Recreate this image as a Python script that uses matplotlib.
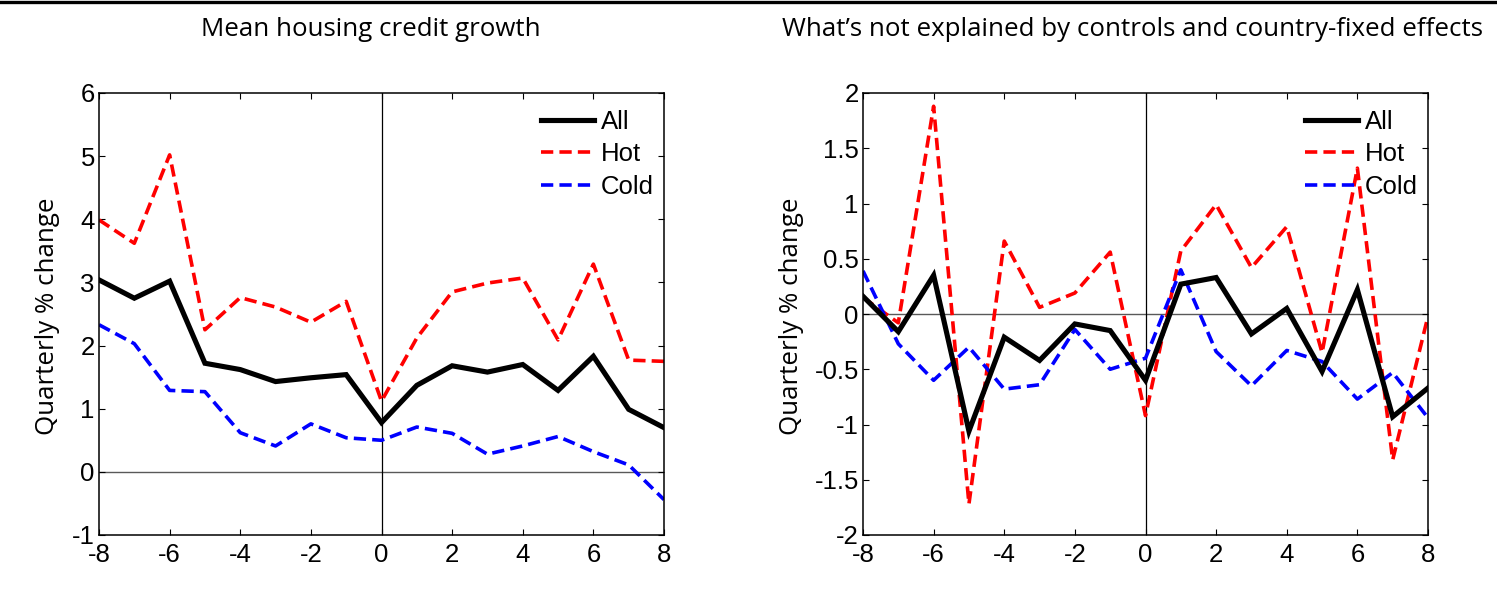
import matplotlib
matplotlib.use("Agg")
import matplotlib.pyplot as plt
from matplotlib.lines import Line2D
from matplotlib.ticker import FuncFormatter
import numpy as np

# ---------------- data ----------------
quarters = list(range(-8, 9))

left_all = [3.04, 2.75, 3.02, 1.72, 1.62, 1.43, 1.49, 1.54, 0.78, 1.37, 1.68, 1.58, 1.70, 1.29, 1.83, 0.99, 0.70]
left_hot = [3.99, 3.62, 5.02, 2.25, 2.76, 2.61, 2.37, 2.70, 1.12, 2.12, 2.85, 2.99, 3.07, 2.09, 3.29, 1.77, 1.75]
left_cold = [2.33, 2.03, 1.29, 1.27, 0.62, 0.41, 0.76, 0.54, 0.50, 0.71, 0.61, 0.28, 0.41, 0.56, 0.32, 0.11, -0.44]

right_all = [0.16, -0.16, 0.35, -1.06, -0.21, -0.42, -0.09, -0.15, -0.60, 0.27, 0.33, -0.18, 0.05, -0.52, 0.22, -0.93, -0.67]
right_hot = [0.15, -0.08, 1.88, -1.72, 0.66, 0.06, 0.19, 0.56, -0.92, 0.57, 0.99, 0.42, 0.79, -0.35, 1.32, -1.32, -0.02]
right_cold = [0.39, -0.27, -0.60, -0.30, -0.68, -0.64, -0.14, -0.50, -0.40, 0.40, -0.34, -0.65, -0.33, -0.43, -0.77, -0.53, -0.94]

series_names = ["All", "Hot", "Cold"]
titles = ["Mean housing credit growth",
          "What\u2019s not explained by controls and country-fixed effects"]
ylabel = "Quarterly % change"
left_yticks = [-1, 0, 1, 2, 3, 4, 5, 6]
right_yticks = [-2, -1.5, -1, -0.5, 0, 0.5, 1, 1.5, 2]
xticks = [-8, -6, -4, -2, 0, 2, 4, 6, 8]

# ---------------- figure ----------------
W, H = 1497, 591
fig = plt.figure(figsize=(W / 100, H / 100), dpi=100)

tick_font = ["Liberation Sans", "DejaVu Sans"]
title_font = ["Open Sans", "DejaVu Sans"]

def ax_rect(x0, x1, y0, y1):
    return [x0 / W, 1 - y1 / H, (x1 - x0) / W, (y1 - y0) / H]

axL = fig.add_axes(ax_rect(99, 664, 93, 535))
axR = fig.add_axes(ax_rect(863, 1428, 93, 535))

fmt = FuncFormatter(lambda v, p: ("%g" % v))

def style(ax, data, yticks, ylim):
    a, h, c = data
    ax.axhline(0, color="0.35", lw=1.0, zorder=1)
    ax.axvline(0, color="black", lw=0.9, zorder=1)
    ax.plot(quarters, a, color="black", lw=3.7, solid_joinstyle="miter", label=series_names[0], zorder=3)
    ax.plot(quarters, h, color="#ff0000", lw=2.6, dashes=(3.4, 1.7), label=series_names[1], zorder=2)
    ax.plot(quarters, c, color="#0000ff", lw=2.6, dashes=(3.4, 1.7), label=series_names[2], zorder=2)
    ax.set_xlim(-8, 8)
    ax.set_ylim(*ylim)
    ax.set_xticks(xticks)
    ax.set_yticks(yticks)
    ax.xaxis.set_major_formatter(fmt)
    ax.yaxis.set_major_formatter(fmt)
    ax.tick_params(direction="in", length=4, width=0.8, top=True, right=True,
                   labelsize=18.5)
    ax.tick_params(axis="x", pad=6)
    ax.tick_params(axis="y", pad=3)
    for lab in ax.get_xticklabels() + ax.get_yticklabels():
        lab.set_family(tick_font)
    for s in ax.spines.values():
        s.set_linewidth(1.1)
    ax.legend(loc="upper left", bbox_to_anchor=(0.782, 0.962), frameon=False,
              borderpad=0, borderaxespad=0, handlelength=2.05, handletextpad=0.28,
              labelspacing=0.33, prop={"family": tick_font, "size": 18.5})
    return ax

style(axL, (left_all, left_hot, left_cold), left_yticks, (-1, 6))
style(axR, (right_all, right_hot, right_cold), right_yticks, (-2, 2))

# titles fit to measured widths
renderer = fig.canvas.get_renderer()
def fitted_text(x, y, s, target_w, **kw):
    t = fig.text(x / W, 1 - y / H, s, ha="center", va="center", family=title_font, fontsize=15, **kw)
    w = t.get_window_extent(renderer).width
    t.set_fontsize(15 * target_w / w)
    return t

t1 = fitted_text(371, 29, titles[0], 339)
t2 = fitted_text(1133, 29, titles[1], 700)
fs = t1.get_fontsize()

fig.text(48 / W, 1 - 316 / H, ylabel, rotation=90, ha="center", va="center", family=title_font, fontsize=fs)
fig.text(791 / W, 1 - 316 / H, ylabel, rotation=90, ha="center", va="center", family=title_font, fontsize=fs)

# top border line
fig.add_artist(Line2D([0, 1], [1 - 1.5 / H, 1 - 1.5 / H], transform=fig.transFigure, color="black", lw=2.4))

fig.savefig("out.png", dpi=100)
